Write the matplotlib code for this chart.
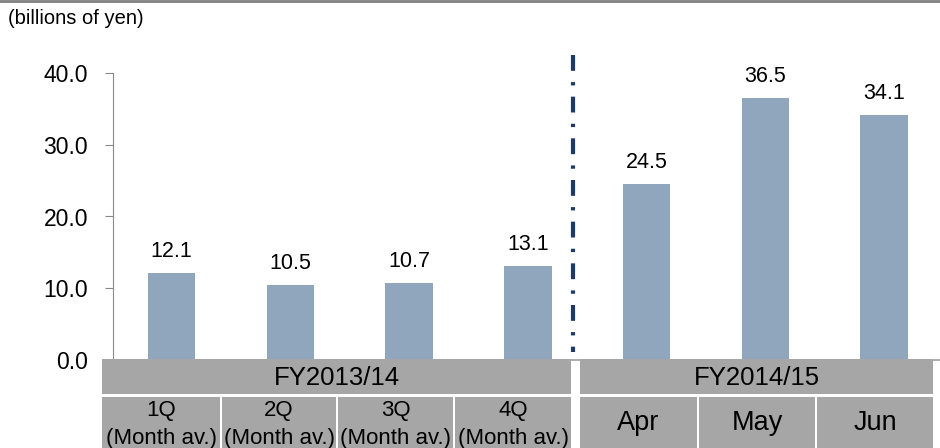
import matplotlib.pyplot as plt
from matplotlib.patches import Rectangle

plt.rcParams['font.family'] = ['Liberation Sans', 'DejaVu Sans']

# data
categories = ["1Q\n(Month av.)", "2Q\n(Month av.)", "3Q\n(Month av.)", "4Q\n(Month av.)",
              "Apr", "May", "Jun"]
values = [12.1, 10.5, 10.7, 13.1, 24.5, 36.5, 34.1]
yticks = [0, 10, 20, 30, 40]
groups = ["FY2013/14", "FY2014/15"]

W, H = 940, 448
fig = plt.figure(figsize=(9.4, 4.48), dpi=100)

def fx(px):
    return px / W

def fy(py):
    return 1 - py / H

ax = fig.add_axes([fx(113), fy(360), fx(940) - fx(113), fy(73) - fy(360)])

x = list(range(len(values)))
ax.bar(x, values, width=0.4, color="#8FA6BC", zorder=2)
for xi, v in zip(x, values):
    ax.text(xi, v + 1.55, f"{v:.1f}", ha="center", va="bottom", fontsize=15.5)

ax.set_xlim(-0.493, 6.47)
ax.set_ylim(0, 40)
ax.set_yticks(yticks)
ax.set_yticklabels([f"{t:.1f}" for t in yticks], fontsize=16.5)
ax.set_xticks([])
ax.tick_params(axis="y", length=6, color="#888888", pad=12)
for s in ["top", "right"]:
    ax.spines[s].set_visible(False)
ax.spines["left"].set_color("#888888")
ax.spines["bottom"].set_color("#A0A0A0")
ax.spines["bottom"].set_linewidth(1.2)

# divider between fiscal years
ax.plot([3.38, 3.38], [42.5, 1.1], color="#1F3A64", lw=3,
        linestyle=(0, (3.8, 2.7, 0.8, 2.7)), clip_on=False, zorder=3)

# top rule and unit label
fig.add_artist(plt.Line2D([0, 1], [fy(1), fy(1)], color="#808080", lw=2))
fig.text(fx(8), fy(19), "(billions of yen)", fontsize=14.5, va="center")

# category table below the axis
cell = "#A6A6A6"
group_cells = [(102, 571), (580, 933)]
for (l, r), g in zip(group_cells, groups):
    fig.add_artist(Rectangle((fx(l), fy(394)), fx(r - l), fy(359) - fy(394),
                             facecolor=cell, edgecolor="none"))
    fig.text(fx((l + r) / 2), fy(378), g, ha="center", va="center", fontsize=18.5)

cat_cells = [(102, 220), (222, 336), (338, 453), (455, 571),
             (580, 697), (699, 815), (817, 933)]
for (l, r), c in zip(cat_cells, categories):
    fig.add_artist(Rectangle((fx(l), fy(448)), fx(r - l), fy(397) - fy(448),
                             facecolor=cell, edgecolor="none"))
    if "\n" in c:
        q, sub = c.split("\n")
        fig.text(fx((l + r) / 2), fy(410), q, ha="center", va="center", fontsize=16)
        fig.text(fx((l + r) / 2), fy(438), sub, ha="center", va="center", fontsize=16)
    else:
        fig.text(fx((l + r) / 2), fy(423), c, ha="center", va="center", fontsize=19.5)

fig.savefig("out.png", dpi=100)
